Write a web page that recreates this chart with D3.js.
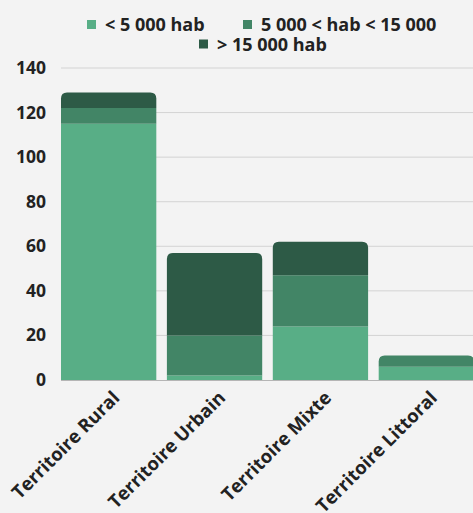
<!DOCTYPE html>
<html>
<head>
<meta charset="utf-8">
<script src="https://cdn.jsdelivr.net/npm/d3@7"></script>
<style>
  body { margin: 0; background: #f3f3f3; }
  svg { display: block; font-family: "Open Sans", "Noto Sans", sans-serif; }
</style>
</head>
<body>
<div id="chart"></div>
<script>
// Data
const categories = ['Territoire Rural', 'Territoire Urbain', 'Territoire Mixte', 'Territoire Littoral'];
const seriesNames = ['< 5 000 hab', '5 000 < hab < 15 000', '> 15 000 hab'];
const small = [115, 2, 24, 6];
const medium = [7, 18, 23, 5];
const large = [7, 37, 15, 0];
const yTicks = [0, 20, 40, 60, 80, 100, 120, 140];
const colors = ['#58ae86', '#428566', '#2d5a46'];

const width = 473, height = 513;
const margin = { top: 68, right: -1, bottom: 133, left: 61 };

const svg = d3.select('#chart').append('svg')
    .attr('width', width)
    .attr('height', height);

svg.append('rect').attr('width', width).attr('height', height).attr('fill', '#f3f3f3');

const rows = categories.map((c, i) => ({ cat: c, s0: small[i], s1: medium[i], s2: large[i] }));
const stacked = d3.stack().keys(['s0', 's1', 's2'])(rows);

const x = d3.scaleBand()
    .domain(categories)
    .range([margin.left, width - margin.right])
    .paddingInner(0.1)
    .paddingOuter(0);

const y = d3.scaleLinear()
    .domain([0, 140])
    .range([height - margin.bottom, margin.top]);

// gridlines
svg.append('g')
    .selectAll('line')
    .data(yTicks.filter(t => t > 0))
    .enter().append('line')
    .attr('x1', margin.left)
    .attr('x2', width)
    .attr('y1', d => y(d))
    .attr('y2', d => y(d))
    .attr('stroke', '#d3d3d3')
    .attr('stroke-width', 1);

// y labels
svg.append('g')
    .selectAll('text')
    .data(yTicks)
    .enter().append('text')
    .attr('x', 46)
    .attr('y', d => y(d) + 6)
    .attr('text-anchor', 'end')
    .attr('font-size', '17.5px')
    .attr('font-weight', 700)
    .attr('fill', '#222')
    .text(d => d);

// baseline
svg.append('line')
    .attr('x1', margin.left)
    .attr('x2', width)
    .attr('y1', y(0) + 0.5)
    .attr('y2', y(0) + 0.5)
    .attr('stroke', '#b5b5b5')
    .attr('stroke-width', 1.2);

// top segment per category gets the rounded corners
const topIdx = categories.map((c, i) => {
    let t = 0;
    stacked.forEach((s, k) => { if (s[i][1] - s[i][0] > 0) t = k; });
    return t;
});

function segPath(x0, w, yTop, yBot, round) {
    const r = Math.min(6, (yBot - yTop));
    if (!round) return `M${x0},${yBot}V${yTop}H${x0 + w}V${yBot}Z`;
    return `M${x0},${yBot}V${yTop + r}Q${x0},${yTop} ${x0 + r},${yTop}H${x0 + w - r}Q${x0 + w},${yTop} ${x0 + w},${yTop + r}V${yBot}Z`;
}

stacked.forEach((s, k) => {
    svg.append('g')
        .selectAll('path')
        .data(s)
        .enter().append('path')
        .filter(d => d[1] - d[0] > 0)
        .attr('d', d => {
            const idx = categories.indexOf(d.data.cat);
            return segPath(x(d.data.cat), x.bandwidth(), y(d[1]), y(d[0]), topIdx[idx] === k);
        })
        .attr('fill', colors[k]);
});

// x labels
svg.append('g')
    .selectAll('text')
    .data(categories)
    .enter().append('text')
    .attr('transform', d => `translate(${x(d) + x.bandwidth() / 2 + 12},${y(0) + 19}) rotate(-45)`)
    .attr('text-anchor', 'end')
    .attr('font-size', '18.5px')
    .attr('font-weight', 700)
    .attr('fill', '#222')
    .text(d => d);

// legend
const legendItems = [
    { name: seriesNames[0], color: colors[0], x: 87, y: 20 },
    { name: seriesNames[1], color: colors[1], x: 243, y: 20 },
    { name: seriesNames[2], color: colors[2], x: 199, y: 39.5 }
];
const lg = svg.append('g').selectAll('g').data(legendItems).enter().append('g');
lg.append('rect')
    .attr('x', d => d.x).attr('y', d => d.y)
    .attr('width', 9).attr('height', 9)
    .attr('fill', d => d.color);
lg.append('text')
    .attr('x', d => d.x + 18).attr('y', d => d.y + 11)
    .attr('font-size', '18px')
    .attr('font-weight', 700)
    .attr('fill', '#222')
    .text(d => d.name);
</script>
</body>
</html>
